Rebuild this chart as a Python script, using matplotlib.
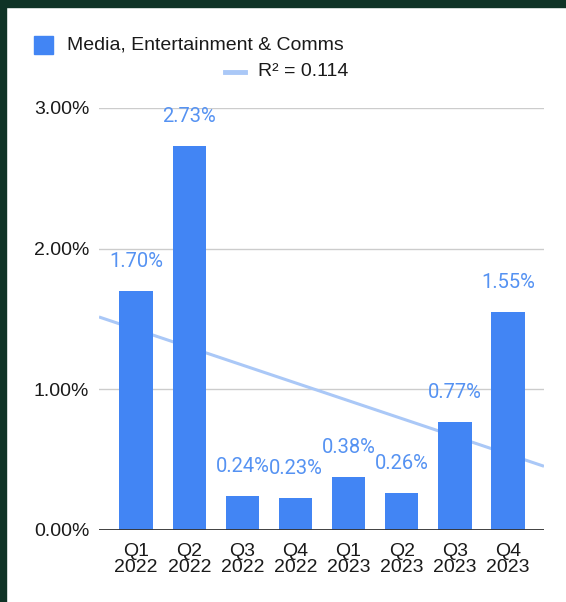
import numpy as np
import matplotlib.pyplot as plt
from matplotlib.patches import Rectangle
from matplotlib.lines import Line2D

# quarterly share, in percent
quarters = ['Q1\n2022', 'Q2\n2022', 'Q3\n2022', 'Q4\n2022',
            'Q1\n2023', 'Q2\n2023', 'Q3\n2023', 'Q4\n2023']
share = np.array([1.70, 2.73, 0.24, 0.23, 0.38, 0.26, 0.77, 1.55])
series_name = 'Media, Entertainment & Comms'
r_squared = 0.114

bar_color = '#4285f4'
label_color = '#5592f2'
trend_color = '#aac8f7'

plt.rcParams['font.family'] = ['Liberation Sans', 'DejaVu Sans']

fig = plt.figure(figsize=(5.66, 6.02), dpi=100)
fig.patch.set_facecolor('white')

# dark frame along top and left edges
fig.patches.append(Rectangle((0, 1 - 7 / 602), 1, 7 / 602, transform=fig.transFigure,
                             color='#0f3326', zorder=0))
fig.patches.append(Rectangle((0, 0), 6 / 566, 1, transform=fig.transFigure,
                             color='#0f3326', zorder=0))

ax = fig.add_axes([99 / 566, 72 / 602, 445 / 566, 422 / 602])

x = np.arange(len(share))
ax.bar(x, share, width=0.63, color=bar_color, zorder=3)

# linear trendline over the full x range
slope, intercept = np.polyfit(x, share, 1)
xl = np.array([-0.7, 7.68])
ax.plot(xl, slope * xl + intercept, color=trend_color, lw=2.2, zorder=2,
        solid_capstyle='butt')

for xi, v in zip(x, share):
    ax.text(xi, v + 0.21, f'{v:.2f}%', ha='center', va='center',
            fontsize=14.5, color=label_color, family=['Roboto', 'DejaVu Sans'],
            zorder=4)

ax.set_xlim(-0.7, 7.68)
ax.set_ylim(0, 3.0)
ax.set_yticks([0, 1, 2, 3])
ax.set_yticklabels(['0.00%', '1.00%', '2.00%', '3.00%'])
ax.set_xticks(x)
ax.set_xticklabels(quarters, linespacing=1.0)
ax.tick_params(axis='both', length=0, labelsize=14, colors='#1a1a1a')
ax.tick_params(axis='y', pad=7)
ax.tick_params(axis='x', pad=9)
ax.yaxis.grid(True, color='#cccccc', lw=1, zorder=0)
for s in ax.spines.values():
    s.set_visible(False)
ax.axhline(0, color='#333333', lw=1.3, zorder=5)

# legend rows
fig.patches.append(Rectangle((34 / 566, 1 - 54 / 602), 19 / 566, 18 / 602,
                             transform=fig.transFigure, color=bar_color))
fig.text(67 / 566, 1 - 45 / 602, series_name, fontsize=14, va='center',
         color='#1a1a1a')
fig.lines.append(Line2D([225 / 566, 245 / 566], [1 - 72 / 602, 1 - 72 / 602],
                        transform=fig.transFigure, color=trend_color, lw=3.5))
fig.text(258 / 566, 1 - 71 / 602, f'R² = {r_squared:.3f}', fontsize=14, va='center',
         color='#1a1a1a')

fig.savefig('out.png', dpi=100)
